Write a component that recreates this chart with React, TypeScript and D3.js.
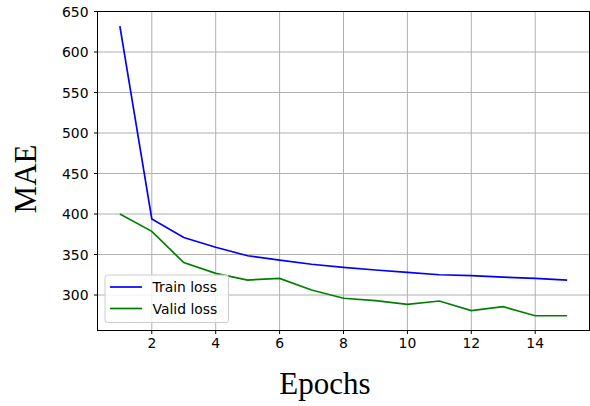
import React from "react";
import * as d3 from "d3";

const epochs = [1, 2, 3, 4, 5, 6, 7, 8, 9, 10, 11, 12, 13, 14, 15];
const trainLoss = [632, 394, 371, 359, 348.5, 343, 338, 334.2, 330.9, 328, 325, 324, 322, 320.5, 318.5];
const validLoss = [400, 378.6, 340, 326.8, 318.5, 320.6, 306.2, 296, 293, 288.5, 292.6, 280.7, 285.6, 274.4, 274.4];
const xTicks = [2, 4, 6, 8, 10, 12, 14];
const yTicks = [300, 350, 400, 450, 500, 550, 600, 650];
const seriesNames = ["Train loss", "Valid loss"];
const seriesColors = ["#0000ff", "#008000"];

const W = 590, H = 406;
const L = 97.5, R = 589.5, T = 11.5, B = 330.5;

export default function App() {
  const x = d3.scaleLinear().domain([0.3, 15.7]).range([L, R]);
  const y = d3.scaleLinear().domain([256.2, 650]).range([B, T]);
  const line = d3.line<number>().x((_, i) => x(epochs[i])).y((d) => y(d));
  const series = [trainLoss, validLoss];
  const tickFont = "'DejaVu Sans', sans-serif";
  return (
    <svg width={W} height={H} style={{ position: "absolute", left: 0, top: 0, background: "#fff" }}>
      <defs>
        <clipPath id="clip"><rect x={L} y={T} width={R - L} height={B - T} /></clipPath>
      </defs>
      {xTicks.map((t) => (
        <line key={"gx" + t} x1={x(t)} x2={x(t)} y1={T} y2={B} stroke="#b0b0b0" strokeWidth={1} />
      ))}
      {yTicks.map((t) => (
        <line key={"gy" + t} x1={L} x2={R} y1={y(t)} y2={y(t)} stroke="#b0b0b0" strokeWidth={1} />
      ))}
      <g clipPath="url(#clip)">
        {series.map((s, i) => (
          <path key={i} d={line(s) || ""} fill="none" stroke={seriesColors[i]} strokeWidth={1.7} />
        ))}
      </g>
      <rect x={L} y={T} width={R - L} height={B - T} fill="none" stroke="#000" strokeWidth={1} />
      {xTicks.map((t) => (
        <g key={"tx" + t}>
          <line x1={x(t)} x2={x(t)} y1={B} y2={B + 3.5} stroke="#000" strokeWidth={1} />
          <text x={x(t)} y={B + 7} textAnchor="middle" dominantBaseline="hanging" fontFamily={tickFont} fontSize={13.9} fill="#000">{t}</text>
        </g>
      ))}
      {yTicks.map((t) => (
        <g key={"ty" + t}>
          <line x1={L - 3.5} x2={L} y1={y(t)} y2={y(t)} stroke="#000" strokeWidth={1} />
          <text x={L - 9} y={y(t)} textAnchor="end" dominantBaseline="central" fontFamily={tickFont} fontSize={13.9} fill="#000">{t}</text>
        </g>
      ))}
      <g>
        <rect x={105} y={275} width={123.5} height={47.5} rx={2.5} fill="#fff" fillOpacity={0.8} stroke="#cccccc" strokeWidth={1} />
        {seriesNames.map((n, i) => (
          <g key={n}>
            <line x1={110} x2={142} y1={287 + i * 21.5} y2={287 + i * 21.5} stroke={seriesColors[i]} strokeWidth={1.7} />
            <text x={152.5} y={287 + i * 21.5} dominantBaseline="central" fontFamily={tickFont} fontSize={13.9} fill="#000">{n}</text>
          </g>
        ))}
      </g>
      <text x={325} y={394} textAnchor="middle" fontFamily="'Liberation Serif', serif" fontSize={31} fill="#000">Epochs</text>
      <text transform={`translate(36,179) rotate(-90)`} textAnchor="middle" fontFamily="'Liberation Serif', serif" fontSize={31} fill="#000">MAE</text>
    </svg>
  );
}
